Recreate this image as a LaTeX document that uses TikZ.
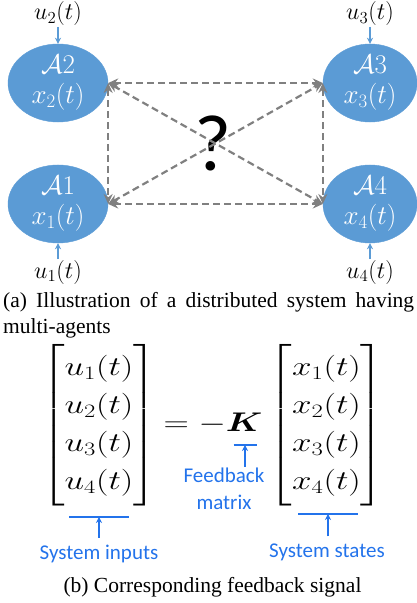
\RequirePackage{fix-cm}
\documentclass[tikz,border=0pt]{standalone}
\usepackage{amsmath,amssymb}
\usepackage[no-math]{fontspec}
\setmainfont{Liberation Serif}
\newfontfamily\notefont{Carlito}
\usepackage{tikz}
\usetikzlibrary{arrows.meta,positioning,shapes.geometric}
\definecolor{agentblue}{RGB}{91,155,213}
\definecolor{noteblue}{RGB}{35,115,235}
\definecolor{linkgray}{RGB}{128,128,128}

\begin{document}
\begin{tikzpicture}[
  x=1pt,y=1pt,
  agent/.style={ellipse,draw=agentblue,fill=agentblue,minimum width=100pt,minimum height=72pt,inner sep=0pt,align=center,text=white,font=\fontsize{27}{30}\selectfont},
  sig/.style={font=\fontsize{24}{26}\selectfont,inner sep=1pt},
  link/.style={{Stealth[length=10pt,width=9pt]}-{Stealth[length=10pt,width=9pt]},linkgray,line width=2.2pt,dash pattern=on 7pt off 4pt},
  feed/.style={-{Stealth[length=6pt,width=6pt]},agentblue,line width=1.4pt},
  eqn/.style={font=\fontsize{27}{38}\selectfont,inner sep=0pt,xscale=1.3,transform shape},
  note/.style={font=\notefont\fontsize{21}{27}\selectfont,text=noteblue,align=center,inner sep=1pt},
  notebar/.style={noteblue,line width=1.5pt},
  uparrow/.style={-{Stealth[length=6pt,width=6pt]},noteblue,line width=1.4pt},
  caption/.style={font=\fontsize{21.5}{26}\selectfont,inner sep=0pt}
]
\useasboundingbox (0,0) rectangle (417,603);
\node[agent] (a2) at (58,520) {$\mathcal{A}2$\\$x_2(t)$};
\node[agent] (a1) at (58,399) {$\mathcal{A}1$\\$x_1(t)$};
\node[agent,minimum width=94pt] (a3) at (370,520) {$\mathcal{A}3$\\$x_3(t)$};
\node[agent,minimum width=94pt] (a4) at (370,399) {$\mathcal{A}4$\\$x_4(t)$};
\node[font=\notefont\fontsize{80}{80}\selectfont,inner sep=0pt] (q) at (213,460) {?};
\draw[link] (a2.east) -- (a3.west);
\draw[link] (a1.east) -- (a4.west);
\draw[link] (a2.east) -- (a1.east);
\draw[link] (a3.west) -- (a4.west);
\draw[link] (a2.east) -- (a4.west);
\draw[link] (a1.east) -- (a3.west);
\node[sig,above=17pt of a2] (u2) {$u_2(t)$};
\node[sig,above=17pt of a3] (u3) {$u_3(t)$};
\node[sig,below=16pt of a1] (u1) {$u_1(t)$};
\node[sig,below=16pt of a4] (u4) {$u_4(t)$};
\draw[feed] (u2) -- (a2);
\draw[feed] (u3) -- (a3);
\draw[feed] (u1) -- (a1);
\draw[feed] (u4) -- (a4);
\node[caption,text width=411pt,align=justify,anchor=north west] (capa) at (3,311)
  {(a) Illustration of a distributed system having multi-agents};
\node[eqn,anchor=base] (lhs) at (99,171)
  {$\begin{bmatrix}u_1(t)\\u_2(t)\\u_3(t)\\u_4(t)\end{bmatrix}$};
\node[eqn,anchor=base] (gain) at (213,171) {$=-\boldsymbol{K}$};
\node[eqn,anchor=base] (rhs) at (326.5,171)
  {$\begin{bmatrix}x_1(t)\\x_2(t)\\x_3(t)\\x_4(t)\end{bmatrix}$};
\coordinate (inbar) at (99,86);
\coordinate (kbar) at (245,158);
\coordinate (stbar) at (328,89);
\draw[notebar] ([xshift=-30pt]inbar) -- ([xshift=30pt]inbar);
\draw[notebar] ([xshift=-11.5pt]kbar) -- ([xshift=11.5pt]kbar);
\draw[notebar] ([xshift=-30pt]stbar) -- ([xshift=30pt]stbar);
\node[note] (ins) at (99,49) {System inputs};
\node[note] (fbm) at (224,114) {Feedback\\matrix};
\node[note] (sts) at (327,51) {System states};
\draw[uparrow,shorten <=6pt] (ins.north -| inbar) -- (inbar);
\draw[uparrow] (fbm.north -| kbar) -- (kbar);
\draw[uparrow,shorten <=6pt] (sts.north -| stbar) -- (stbar);
\node[caption,anchor=base] (capb) at (212.5,10) {(b) Corresponding feedback signal};
\end{tikzpicture}
\end{document}
